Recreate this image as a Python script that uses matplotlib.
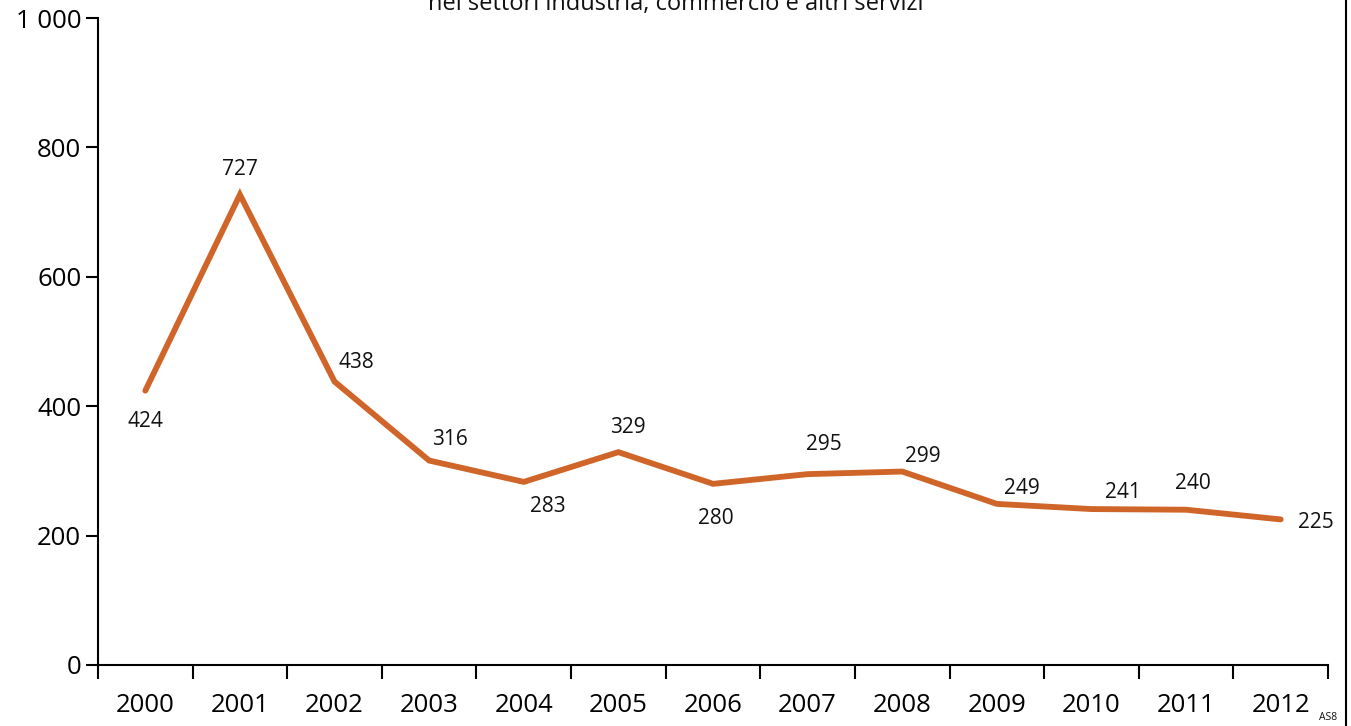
import matplotlib.pyplot as plt
from matplotlib.lines import Line2D

plt.rcParams['font.family'] = ['Open Sans', 'DejaVu Sans']

years = ['2000', '2001', '2002', '2003', '2004', '2005', '2006',
         '2007', '2008', '2009', '2010', '2011', '2012']
values = [424, 727, 438, 316, 283, 329, 280, 295, 299, 249, 241, 240, 225]
# label offsets in points (dx, dy)
offsets = [(0, -22), (0, 18), (16, 14), (15, 15), (17, -18), (7, 18), (2, -25),
           (12, 21), (15, 11), (18, 11), (23, 12), (5, 19), (25, -2)]

fig = plt.figure(figsize=(13.51, 7.26), dpi=100)
ax = fig.add_axes([98 / 1351, 1 - 665 / 726, 1230 / 1351, 647 / 726])

x = list(range(len(years)))
ax.plot(x, values, color='#CF6528', lw=4.2, solid_capstyle='round',
        solid_joinstyle='miter', clip_on=False)

for xi, v, (dx, dy) in zip(x, values, offsets):
    ax.annotate(str(v), (xi, v), xytext=(dx, dy), textcoords='offset points',
                ha='center', va='center', fontsize=15, color='#111111')

ax.set_xlim(-0.5, len(years) - 0.5)
ax.set_ylim(0, 1000)
ax.set_yticks([0, 200, 400, 600, 800, 1000])
ax.set_yticklabels(['0', '200', '400', '600', '800', '1 000'], fontsize=18.5)

ax.set_xticks([i - 0.5 for i in range(len(years) + 1)])
ax.set_xticklabels([])
ax.set_xticks(x, minor=True)
ax.set_xticklabels(years, minor=True, fontsize=18.5)
ax.tick_params(axis='x', which='major', direction='out', length=10, width=1.5)
ax.tick_params(axis='x', which='minor', length=0, pad=20)
ax.tick_params(axis='y', direction='out', length=9, width=1.5, pad=3)

for s in ['top', 'right']:
    ax.spines[s].set_visible(False)
for s in ['left', 'bottom']:
    ax.spines[s].set_linewidth(1.5)

fig.text(0.5, 0.994, 'nei settori industria, commercio e altri servizi',
         ha='center', va='center', fontsize=17, color='#111111')
fig.text(1328 / 1351, 1 - 718 / 726, 'AS8', ha='center', va='center',
         fontsize=7.5, color='#111111')
fig.add_artist(Line2D([1346 / 1351, 1346 / 1351], [0, 1], color='black',
                      lw=1.5, transform=fig.transFigure))

fig.savefig('out.png', dpi=100)
plt.close()
